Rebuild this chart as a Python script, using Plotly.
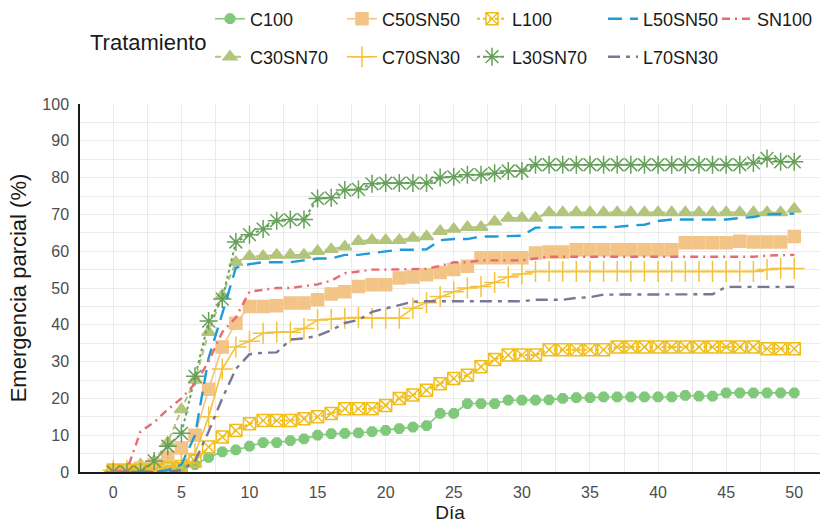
import plotly.graph_objects as go

# Days after sowing
dias = list(range(0, 51))

# Cumulative partial emergence (%) per treatment, one value per day (0-50)
C100 = [0, 0, 0, 0, 0.5, 1, 2, 4, 5.5, 6,
        7, 8, 8, 8.5, 9, 10, 10.4, 10.5, 10.6, 11,
        11.3, 11.8, 12.2, 12.6, 15.9, 15.9, 18.6, 18.6, 18.6, 19.5,
        19.5, 19.5, 19.6, 20, 20.2, 20.2, 20.4, 20.4, 20.4, 20.4,
        20.4, 20.4, 20.8, 20.6, 20.6, 21.5, 21.5, 21.5, 21.5, 21.5,
        21.5]
C30SN70 = [0, 0, 2, 3, 8, 17, 25, 38, 48, 57,
           58.6, 58.6, 59, 59, 59, 60, 60.5, 61.2, 62.7, 63,
           63, 63, 63.6, 64, 65.4, 66, 66.5, 66.5, 68, 69,
           69, 69, 70.5, 70.5, 70.5, 70.5, 70.5, 70.5, 70.5, 70.5,
           70.5, 70.5, 70.5, 70.5, 70.5, 70.5, 70.5, 70.5, 70.5, 70.5,
           71.5]
C50SN50 = [0.5, 0.5, 1, 2, 4, 6.5, 10, 22.5, 34, 40.4,
           45, 45, 45.2, 45.9, 45.9, 46.8, 48.4, 49, 50.4, 50.9,
           50.9, 52.7, 53, 53.6, 54.2, 55, 55.9, 58.2, 58.2, 58.2,
           58.2, 59.5, 59.8, 59.8, 60.4, 60.4, 60.4, 60.4, 60.4, 60.4,
           60.4, 60.4, 62.3, 62.3, 62.3, 62.3, 62.7, 62.5, 62.5, 62.5,
           64]
C70SN30 = [0.5, 0.5, 0.5, 1, 1.5, 2.5, 5, 15, 28, 34,
           35.5, 37.7, 38, 38, 39, 41.3, 41.5, 41.8, 42, 41.8,
           41.8, 41.8, 44.5, 46, 47.7, 49, 50, 50.4, 51.5, 53,
           53.8, 54.5, 54.5, 54.5, 54.5, 54.5, 54.5, 54.5, 54.5, 54.5,
           54.5, 54.5, 54.5, 54.5, 54.5, 54.5, 54.5, 54.5, 55, 55.3,
           55.3]
L100 = [0.5, 0.5, 0.5, 0.5, 1, 1.5, 3, 6.8, 9.5, 11.3,
        13.1, 14, 14, 14, 14.5, 15, 15.9, 17.2, 17.2, 17.2,
        18.1, 20, 20.9, 22.2, 24, 25.4, 26.3, 28.6, 30.6, 31.8,
        31.8, 31.8, 33.2, 33.2, 33.2, 33.2, 33.2, 34, 34, 34,
        34, 34, 34, 34, 34, 34, 34, 34, 33.5, 33.5,
        33.5]
L30SN70 = [0, 0, 0, 3, 7, 10.5, 26, 41, 47, 62.5,
           64.5, 66, 68.3, 68.6, 68.6, 74.3, 74.5, 76.6, 76.8, 78.3,
           78.5, 78.5, 78.5, 78.5, 80, 80.2, 80.8, 80.8, 81.2, 81.8,
           81.8, 83.5, 83.5, 83.5, 83.5, 83.5, 83.5, 83.5, 83.5, 83.5,
           83.5, 83.5, 83.5, 83.5, 83.5, 83.5, 83.5, 84, 85.2, 84.3,
           84.3]
L50SN50 = [0, 0, 0, 0, 0.5, 2, 10, 31, 43, 55.5,
           56.5, 57, 57, 57, 57.5, 58, 58, 59, 59, 59.5,
           60, 60.4, 60.4, 60.5, 63, 63.3, 63.3, 64, 64, 64.2,
           64.2, 66.4, 66.4, 66.4, 66.4, 66.4, 66.4, 66.6, 67, 67.2,
           68.2, 68.6, 68.6, 68.6, 68.6, 68.6, 69, 69.3, 70, 70.2,
           70.2]
L70SN30 = [0, 0, 0, 0, 0, 0.5, 3, 11, 20, 28,
           32, 32.4, 32.5, 36, 36.3, 37, 38.5, 40.5, 41.3, 43.5,
           44.5, 45.4, 46.3, 46.4, 46.4, 46.4, 46.4, 46.4, 46.4, 46.4,
           46.4, 46.8, 46.8, 46.8, 47.3, 47.5, 48.2, 48.2, 48.2, 48.2,
           48.3, 48.3, 48.3, 48.3, 48.3, 50.3, 50.3, 50.3, 50.3, 50.3,
           50.3]
SN100 = [0, 0.5, 11, 13.5, 17, 20, 24, 30, 38, 42,
         49, 49.5, 50, 50, 50.5, 51, 52, 54, 54.5, 55,
         55, 55, 55, 55.2, 56, 57, 57, 57.5, 57.5, 57.5,
         57.5, 58, 58.5, 58.5, 58.5, 58.5, 58.5, 58.5, 58.5, 58.5,
         58.5, 58.5, 58.5, 58.5, 58.5, 58.5, 58.5, 58.5, 58.8, 59,
         59]

tratamientos = ["C100", "C30SN70", "C50SN50", "C70SN30", "L100",
                "L30SN70", "L50SN50", "L70SN30", "SN100"]
valores = [C100, C30SN70, C50SN50, C70SN30, L100,
           L30SN70, L50SN50, L70SN30, SN100]

FONT = "Arial, Liberation Sans, sans-serif"

# Line / marker appearance per treatment
estilos = {
    "C100":    dict(color="#80c97b", dash="solid", symbol="octagon", size=10, lw=1.6),
    "C30SN70": dict(color="#b3c47c", dash="6px,4px", symbol="triangle-up", size=12, lw=2),
    "C50SN50": dict(color="#f3c487", dash="solid", symbol="square", size=12, lw=1.6),
    "C70SN30": dict(color="#f5c23d", dash="solid", symbol="cross-thin-open", size=15, lw=1.6),
    "L100":    dict(color="#f0bd1a", dash="dot", symbol="square-x-open", size=12, lw=2),
    "L30SN70": dict(color="#66a05a", dash="dot", symbol="asterisk-open", size=15, lw=2),
    "L50SN50": dict(color="#1f9bd7", dash="14px,8px", symbol=None, size=0, lw=2.4),
    "L70SN30": dict(color="#7b7596", dash="12px,6px,4px,6px", symbol=None, size=0, lw=2.4),
    "SN100":   dict(color="#ea6a72", dash="8px,5px,2px,5px", symbol=None, size=0, lw=2.4),
}

# Legend grid: (row centre y in px, label start x in px)
posicion_leyenda = {
    "C100": (19, 250), "C50SN50": (19, 382), "L100": (19, 512),
    "L50SN50": (19, 643), "SN100": (19, 757),
    "C30SN70": (57, 250), "C70SN30": (57, 382), "L30SN70": (57, 512),
    "L70SN30": (57, 643),
}

W, H = 820, 523

fig = go.Figure()
layout_legends = {}
for i, (nombre, y) in enumerate(zip(tratamientos, valores)):
    st = estilos[nombre]
    leg_id = "legend" if i == 0 else f"legend{i + 1}"
    mode = "lines+markers" if st["symbol"] else "lines"
    marker = dict(symbol=st["symbol"], size=st["size"], color=st["color"],
                  line=dict(width=1.5, color=st["color"])) if st["symbol"] else None
    fig.add_trace(go.Scatter(
        x=dias, y=y, name=nombre, mode=mode,
        line=dict(color=st["color"], width=st["lw"], dash=st["dash"]),
        marker=marker, legend=leg_id, showlegend=True,
    ))
    ry, lx = posicion_leyenda[nombre]
    layout_legends[leg_id] = dict(
        x=(lx - 40) / W, xref="container", xanchor="left",
        y=1 - ry / H, yref="container", yanchor="middle",
        bgcolor="rgba(0,0,0,0)", borderwidth=0, visible=True,
        font=dict(family=FONT, size=18, color="#1a1a1a"),
        orientation="h",
    )

fig.update_layout(showlegend=True, **layout_legends)

fig.add_annotation(
    text="Tratamiento", xref="paper", yref="paper",
    x=(88 - 80) / (W - 80), y=1 + (104 - 42) / (472 - 104),
    xanchor="left", yanchor="middle", showarrow=False,
    font=dict(family=FONT, size=22, color="#1a1a1a"),
)

fig.update_layout(
    width=W, height=H,
    margin=dict(l=80, r=0, t=104, b=51),
    paper_bgcolor="white", plot_bgcolor="white",
    font=dict(family=FONT),
    xaxis=dict(
        range=[-2.445, 51.89], tickmode="array",
        tickvals=[0, 5, 10, 15, 20, 25, 30, 35, 40, 45, 50],
        showgrid=True, gridcolor="#ebebeb", gridwidth=1.2,
        minor=dict(dtick=2.5, tick0=0, showgrid=True, gridcolor="#ebebeb", gridwidth=1),
        showline=True, linecolor="#1a1a1a", linewidth=1.5,
        zeroline=False, ticks="", ticklabelstandoff=5,
        tickfont=dict(family=FONT, size=16, color="#4d4d4d"),
        title=dict(text="Día", font=dict(family=FONT, size=19, color="#1a1a1a"), standoff=6),
    ),
    yaxis=dict(
        range=[0, 100], tickmode="array",
        tickvals=[0, 10, 20, 30, 40, 50, 60, 70, 80, 90, 100],
        showgrid=True, gridcolor="#ebebeb", gridwidth=1.2,
        minor=dict(dtick=5, tick0=0, showgrid=True, gridcolor="#ebebeb", gridwidth=1),
        showline=True, linecolor="#1a1a1a", linewidth=1.5,
        zeroline=False, ticks="", ticklabelstandoff=6,
        tickfont=dict(family=FONT, size=16, color="#4d4d4d"),
        title=dict(text="Emergencia parcial (%)", font=dict(family=FONT, size=22, color="#1a1a1a"), standoff=10),
    ),
)

fig.write_html("out.html")
